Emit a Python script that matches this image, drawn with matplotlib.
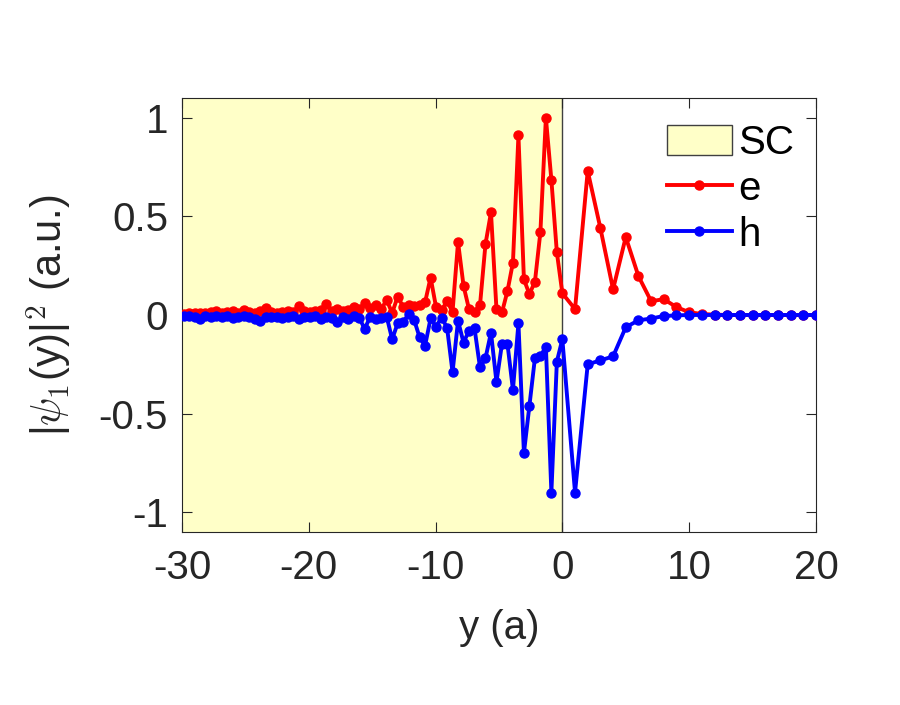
import numpy as np
import matplotlib
matplotlib.use('Agg')
import matplotlib.pyplot as plt
from matplotlib.patches import Patch
from matplotlib.ticker import FormatStrFormatter

plt.rcParams['font.family'] = ['Liberation Sans', 'DejaVu Sans']
plt.rcParams['axes.unicode_minus'] = False
plt.rcParams['mathtext.fontset'] = 'cm'

# lattice step in the SC region (units of a), normal region step is 1
SC_STEP = np.sqrt(3) / 4
N_SC = 70

# SC region: x from about -29.9 up to 0 (ascending)
y_sc = -SC_STEP * np.arange(N_SC - 1, -1, -1)
e_sc = [0.005, 0.01, 0.008, 0.012, 0.01, 0.015, 0.02, 0.012, 0.015, 0.02,
        0.012, 0.025, 0.015, 0.012, 0.018, 0.035, 0.015, 0.01, 0.015, 0.02,
        0.015, 0.045, 0.02, 0.015, 0.02, 0.025, 0.055, 0.02, 0.03, 0.02,
        0.025, 0.04, 0.03, 0.06, 0.035, 0.05, 0.03, 0.076, 0.01, 0.093,
        0.042, 0.05, 0.045, 0.05, 0.065, 0.19, 0.039, 0.025, 0.069, 0.017,
        0.37, 0.148, 0.029, 0.017, 0.05, 0.36, 0.52, 0.029, 0.013, 0.121,
        0.266, 0.91, 0.18, 0.106, 0.168, 0.42, 1.0, 0.685, 0.317, 0.11]
h_sc = [-0.005, -0.003, -0.008, -0.02, -0.005, -0.01, -0.004, -0.012, -0.006, -0.015,
        -0.008, -0.005, -0.01, -0.02, -0.03, -0.008, -0.012, -0.01, -0.015, -0.01,
        -0.005, -0.02, -0.01, -0.012, -0.005, -0.02, -0.01, -0.015, -0.035, -0.01,
        -0.02, -0.005, -0.015, -0.07, -0.01, -0.02, -0.015, -0.008, -0.123, -0.042,
        -0.037, 0.005, -0.025, -0.113, -0.155, -0.017, -0.059, -0.013, -0.064, -0.29,
        -0.029, -0.14, -0.079, -0.067, -0.266, -0.219, -0.089, -0.34, -0.146, -0.146,
        -0.379, -0.042, -0.70, -0.46, -0.219, -0.21, -0.16, -0.90, -0.236, -0.123]

# normal region: x = 1 .. 20
y_n = np.arange(1, 21)
e_n = [0.03, 0.73, 0.44, 0.13, 0.395, 0.197, 0.07, 0.08, 0.04, 0.014,
       0.005, 0.002, 0, 0, 0, 0, 0, 0, 0, 0]
h_n = [-0.90, -0.25, -0.23, -0.21, -0.062, -0.027, -0.018, -0.005, -0.002, 0,
       0, 0, 0, 0, 0, 0, 0, 0, 0, 0]

y_all = np.concatenate([y_sc, y_n])
e_all = np.concatenate([e_sc, e_n])
h_all = np.concatenate([h_sc, h_n])

dark = '#262626'
FS = 29
fig = plt.figure(figsize=(9, 7.05), dpi=100)
ax = fig.add_axes([0.2022, 0.2454, 0.7044, 0.6156])

ax.axvspan(-30, 0, facecolor='#ffffc8', edgecolor='none', zorder=0)
ax.axvline(0, color='#404040', lw=1.0, zorder=1)

ax.plot(y_all, e_all, '-o', color='red', lw=2.8, ms=6.5, zorder=3)
ax.plot(y_all, h_all, '-o', color='blue', lw=2.8, ms=6.5, zorder=4)

ax.set_xlim(-30, 20)
ax.set_ylim(-1.1, 1.1)
ax.set_xticks([-30, -20, -10, 0, 10, 20])
ax.set_yticks([-1, -0.5, 0, 0.5, 1])
ax.yaxis.set_major_formatter(FormatStrFormatter('%g'))
ax.tick_params(direction='in', length=7, width=0.8, top=True, right=True,
               labelsize=FS, colors=dark)
ax.tick_params(axis='x', pad=12)
ax.tick_params(axis='y', pad=10)
for s in ax.spines.values():
    s.set_color(dark)
    s.set_linewidth(0.8)

ax.set_xlabel('y (a)', fontsize=FS, color=dark, labelpad=16)
ax.set_ylabel(r'|$\psi_1$(y)|$^2$ (a.u.)', fontsize=30, color=dark, labelpad=18)

handles = [Patch(facecolor='#ffffc8', edgecolor='#404040', lw=1.0, label='SC'),
           plt.Line2D([], [], color='red', lw=2.8, marker='o', ms=6.5, label='e'),
           plt.Line2D([], [], color='blue', lw=2.8, marker='o', ms=6.5, label='h')]
leg = ax.legend(handles=handles, loc='upper right', frameon=False, fontsize=FS,
                handlelength=1.6, handleheight=0.8, handletextpad=0.15,
                labelspacing=0.2, borderaxespad=0.0, borderpad=0.0,
                bbox_to_anchor=(0.965, 0.94))
for t in leg.get_texts():
    t.set_color('black')

fig.savefig('out.png', dpi=100)
